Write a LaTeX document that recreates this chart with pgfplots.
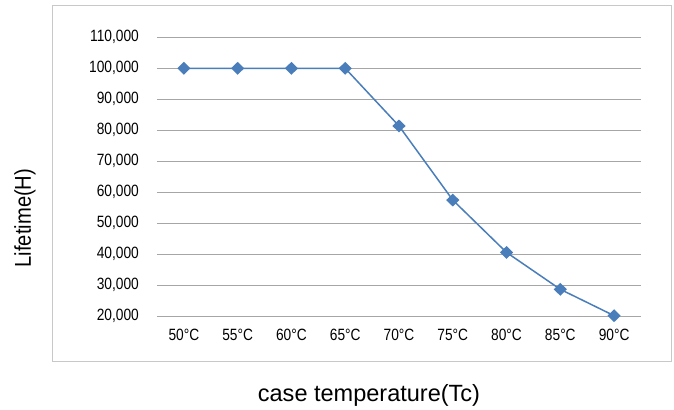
\documentclass[border=0pt]{standalone}
\usepackage{fontspec}
\setmainfont{Liberation Sans}
\newfontfamily\tickfont[FakeStretch=0.84]{Liberation Sans}
\newfontfamily\ylabfont[FakeStretch=0.88]{Liberation Sans}
\usepackage{pgfplots}
\pgfplotsset{compat=1.18}
\definecolor{linecol}{RGB}{74,126,187}
\definecolor{gridcol}{RGB}{166,166,166}
\definecolor{boxcol}{RGB}{200,200,200}
\begin{document}
\begin{tikzpicture}
\useasboundingbox (-157bp,-93.7bp) rectangle (517bp,316.3bp);
\draw[boxcol, line width=1bp] (-104.7bp,-45.2bp) rectangle (514bp,310.3bp);
\begin{axis}[
    scale only axis,
    width=484bp, height=279bp,
    xmin=-0.5, xmax=8.5,
    ymin=20000, ymax=110000,
    xtick={0,...,8},
    xticklabels={50°C,55°C,60°C,65°C,70°C,75°C,80°C,85°C,90°C},
    ytick={20000,30000,40000,50000,60000,70000,80000,90000,100000,110000},
    yticklabels={{20,000},{30,000},{40,000},{50,000},{60,000},{70,000},{80,000},{90,000},{100,000},{110,000}},
    scaled y ticks=false,
    yticklabel style={font=\tickfont\fontsize{16.4}{19}\selectfont, inner sep=0pt, xshift=-18bp},
    xticklabel style={font=\tickfont\fontsize{16.4}{19}\selectfont, inner sep=0pt, yshift=-13bp},
    axis line style={draw=none},
    major tick length=0pt,
    ymajorgrids=true,
    grid style={gridcol, line width=1bp},
    clip=false,
    xlabel={case temperature(Tc)},
    xlabel style={at={(axis description cs:0.438,-0.282)}, anchor=center, inner sep=0pt, font=\fontsize{23.6}{28}\selectfont},
    ylabel={Lifetime(H)},
    ylabel style={at={(axis description cs:-0.2727,0.3523)}, anchor=center, inner sep=0pt, font=\ylabfont\fontsize{23}{28}\selectfont},
]
\addplot[
    color=linecol,
    line width=1.5bp,
    mark=diamond*,
    mark size=5.4bp,
    mark options={xscale=1.36, fill=linecol, draw=linecol},
    ]
    coordinates {
    (0,100000)
    (1,100000)
    (2,100000)
    (3,100000)
    (4,81400)
    (5,57500)
    (6,40600)
    (7,28700)
    (8,20200)
    };
\end{axis}
\end{tikzpicture}
\end{document}
